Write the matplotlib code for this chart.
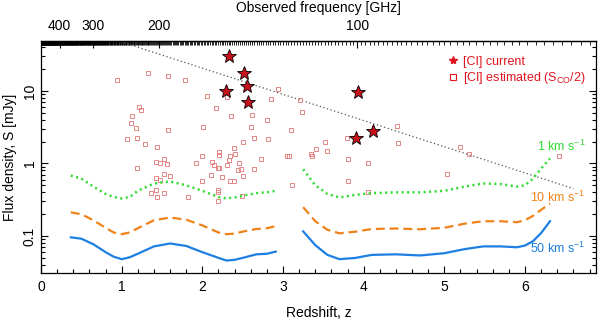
import numpy as np
import matplotlib
matplotlib.use('Agg')
import matplotlib.pyplot as plt
from matplotlib.lines import Line2D
from matplotlib.ticker import FixedLocator, MultipleLocator, NullFormatter

plt.rcParams['font.family'] = ['Liberation Sans', 'DejaVu Sans']
plt.rcParams['mathtext.fontset'] = 'custom'
plt.rcParams['mathtext.rm'] = 'Liberation Sans'
plt.rcParams['mathtext.it'] = 'Liberation Sans:italic'

NU_CI = 492.16  # [CI] 1-0 rest frequency, GHz

# --- [CI] estimated from CO (S_CO/2) ---
est_z = [0.945, 1.33, 1.58, 1.79, 1.21, 1.235, 1.13, 1.11, 1.18, 1.58, 1.07, 1.19,
         1.29, 1.44, 1.52, 1.42, 1.47, 1.565, 1.92, 1.19, 1.42, 1.52, 1.60, 1.47,
         1.425, 1.37, 1.52, 1.44, 1.82, 2.06, 2.31, 2.94, 2.85, 3.21, 3.24, 2.17,
         2.35, 2.62, 2.80, 2.01, 2.60, 3.10, 2.64, 2.81, 2.51, 2.39, 2.00, 2.21,
         2.21, 2.40, 2.34, 2.33, 2.12, 2.14, 2.19, 2.21, 2.30, 2.46, 2.48, 2.445,
         2.73, 2.64, 3.05, 3.08, 3.35, 2.11, 2.25, 2.50, 1.99, 2.34, 2.39, 3.11,
         2.20, 2.19, 2.49, 2.20, 4.41, 4.43, 3.79, 3.52, 3.54, 3.41, 3.36, 3.80,
         4.06, 3.80, 4.06, 5.03, 5.20, 5.30, 6.42]
est_S = [14.2, 17.7, 16.1, 14.2, 6.03, 5.48, 4.53, 3.66, 3.10, 2.91, 2.16, 2.26,
         1.83, 1.71, 1.16, 1.04, 1.02, 0.97, 1.02, 0.87, 0.64, 0.71, 0.68, 0.60,
         0.435, 0.39, 0.39, 0.35, 0.34, 8.53, 8.27, 10.5, 7.76, 7.52, 5.19, 5.84,
         4.53, 4.72, 4.03, 3.23, 3.20, 2.91, 2.21, 2.16, 1.96, 1.61, 1.25, 1.46,
         1.30, 1.36, 1.25, 1.10, 1.05, 0.94, 0.87, 0.87, 0.94, 1.02, 0.85, 0.82,
         1.16, 0.85, 1.25, 1.28, 1.33, 0.69, 0.65, 0.68, 0.58, 0.57, 0.58, 0.50,
         0.43, 0.40, 0.36, 0.30, 3.30, 1.93, 2.21, 1.96, 1.48, 1.56, 1.25, 1.16,
         1.02, 0.58, 0.40, 0.72, 1.71, 1.34, 1.28]

# --- [CI] current detections ---
cur_z = [2.33, 2.52, 2.56, 2.29, 2.57, 3.93, 4.12, 3.91]
cur_S = [30.6, 17.7, 11.8, 10.1, 7.06, 9.8, 2.84, 2.21]

# --- dotted reference line ---
ref_z = [0.98, 6.60]
ref_S = [48.0, 0.45]

# --- sensitivity curves, two redshift windows ---
seg1_z = [0.37, 0.5, 0.65, 0.8, 0.9, 1.0, 1.1, 1.2, 1.4, 1.6, 1.8, 2.0, 2.2, 2.3, 2.4, 2.5, 2.67, 2.8, 2.91]
green1 = [0.68, 0.62, 0.48, 0.38, 0.345, 0.33, 0.345, 0.42, 0.53, 0.565, 0.50, 0.42, 0.345, 0.33, 0.34, 0.36, 0.39, 0.40, 0.42]
orange1 = [0.212, 0.200, 0.165, 0.13, 0.112, 0.106, 0.112, 0.128, 0.165, 0.18, 0.168, 0.14, 0.112, 0.106, 0.108, 0.115, 0.125, 0.128, 0.137]
blue1 = [0.096, 0.092, 0.077, 0.060, 0.052, 0.048, 0.051, 0.057, 0.072, 0.079, 0.073, 0.060, 0.050, 0.046, 0.047, 0.050, 0.056, 0.057, 0.061]

seg2_z = [3.25, 3.4, 3.55, 3.7, 3.9, 4.1, 4.4, 4.7, 5.0, 5.25, 5.48, 5.7, 5.9, 6.0, 6.1, 6.2, 6.31]
green2 = [0.83, 0.50, 0.38, 0.34, 0.37, 0.39, 0.40, 0.40, 0.42, 0.48, 0.53, 0.52, 0.48, 0.50, 0.62, 0.85, 1.17]
orange2 = [0.25, 0.16, 0.122, 0.109, 0.115, 0.125, 0.127, 0.124, 0.13, 0.148, 0.16, 0.16, 0.155, 0.165, 0.19, 0.23, 0.28]
blue2 = [0.116, 0.075, 0.055, 0.048, 0.050, 0.055, 0.056, 0.054, 0.058, 0.066, 0.072, 0.072, 0.070, 0.074, 0.085, 0.11, 0.16]

GREEN = '#2fdc2f'
ORANGE = '#f0821a'
BLUE = '#1d7fe2'
RED = '#e0141e'

fig = plt.figure(figsize=(6.0, 3.2), dpi=100, facecolor='white')
ax = fig.add_axes([0.0683, 0.147, 0.9250, 0.7235])

ax.plot(ref_z, ref_S, ls=(0, (1, 2)), color='#555555', lw=0.9)

ax.plot(est_z, est_S, ls='', marker='s', ms=3.4, mfc='none', mec='#e58585', mew=0.7)
ax.plot(cur_z, cur_S, ls='', marker='*', ms=10, mfc='#c8101a', mec='black', mew=0.6)

for zz, g, o, b in [(seg1_z, green1, orange1, blue1), (seg2_z, green2, orange2, blue2)]:
    ax.plot(zz, g, color=GREEN, lw=1.8, ls=(0, (0.8, 1.4)))
    ax.plot(zz, o, color=ORANGE, lw=1.6, ls=(0, (4, 2.2)))
    ax.plot(zz, b, color=BLUE, lw=1.6)

ax.text(6.75, 1.71, '1 km s$^{-1}$', color=GREEN, fontsize=9, ha='right', va='center')
ax.text(6.75, 0.34, '10 km s$^{-1}$', color=ORANGE, fontsize=9, ha='right', va='center')
ax.text(6.75, 0.068, '50 km s$^{-1}$', color=BLUE, fontsize=9, ha='right', va='center')

ax.set_yscale('log')
ax.set_xlim(0, 6.88)
ax.set_ylim(0.031, 48)

ax.xaxis.set_major_locator(MultipleLocator(1))
ax.xaxis.set_minor_locator(MultipleLocator(0.2))
ax.yaxis.set_major_locator(FixedLocator([0.1, 1, 10]))
ax.set_yticklabels(['0.1', '1', '10'], rotation=90, va='center')
ax.yaxis.set_minor_formatter(NullFormatter())

ax.tick_params(which='both', direction='in', top=False, right=True, labelsize=10, width=0.8)
ax.tick_params(which='major', length=5)
ax.tick_params(which='minor', length=3)
ax.tick_params(axis='x', pad=5)
ax.tick_params(axis='y', pad=3)

ax.set_xlabel('Redshift, z', fontsize=10, labelpad=9)
ax.set_ylabel('Flux density, S [mJy]', fontsize=10, labelpad=4)


def z2nu(z):
    z = np.asarray(z, dtype=float)
    with np.errstate(divide='ignore', invalid='ignore'):
        return NU_CI / (1 + z)


def nu2z(nu):
    nu = np.asarray(nu, dtype=float)
    with np.errstate(divide='ignore', invalid='ignore'):
        return NU_CI / nu - 1


secax = ax.secondary_xaxis('top', functions=(z2nu, nu2z))
secax.xaxis.set_major_locator(FixedLocator([400, 300, 200, 100]))
secax.xaxis.set_minor_locator(FixedLocator(np.arange(60, 493, 1)))
secax.xaxis.set_minor_formatter(NullFormatter())
secax.tick_params(which='both', direction='in', labelsize=10, width=0.8, pad=6)
secax.tick_params(which='major', length=5)
secax.tick_params(which='minor', length=3, width=0.6)
secax.set_xlabel('Observed frequency [GHz]', fontsize=10, labelpad=5)

for sp in list(ax.spines.values()) + list(secax.spines.values()):
    sp.set_linewidth(0.9)

handles = [
    Line2D([], [], ls='', marker='*', ms=6, mfc=RED, mec=RED),
    Line2D([], [], ls='', marker='s', ms=4, mfc='none', mec=RED, mew=0.8),
]
ax.legend(handles, ['[CI] current', '[CI] estimated (S$_{\\rm CO}$/2)'],
          loc='upper right', bbox_to_anchor=(0.99, 0.96), frameon=False,
          fontsize=9, labelcolor=RED, handlelength=0.6, handletextpad=0.5,
          labelspacing=0.2, borderaxespad=0)

plt.savefig('out.png', dpi=100, facecolor='white')
